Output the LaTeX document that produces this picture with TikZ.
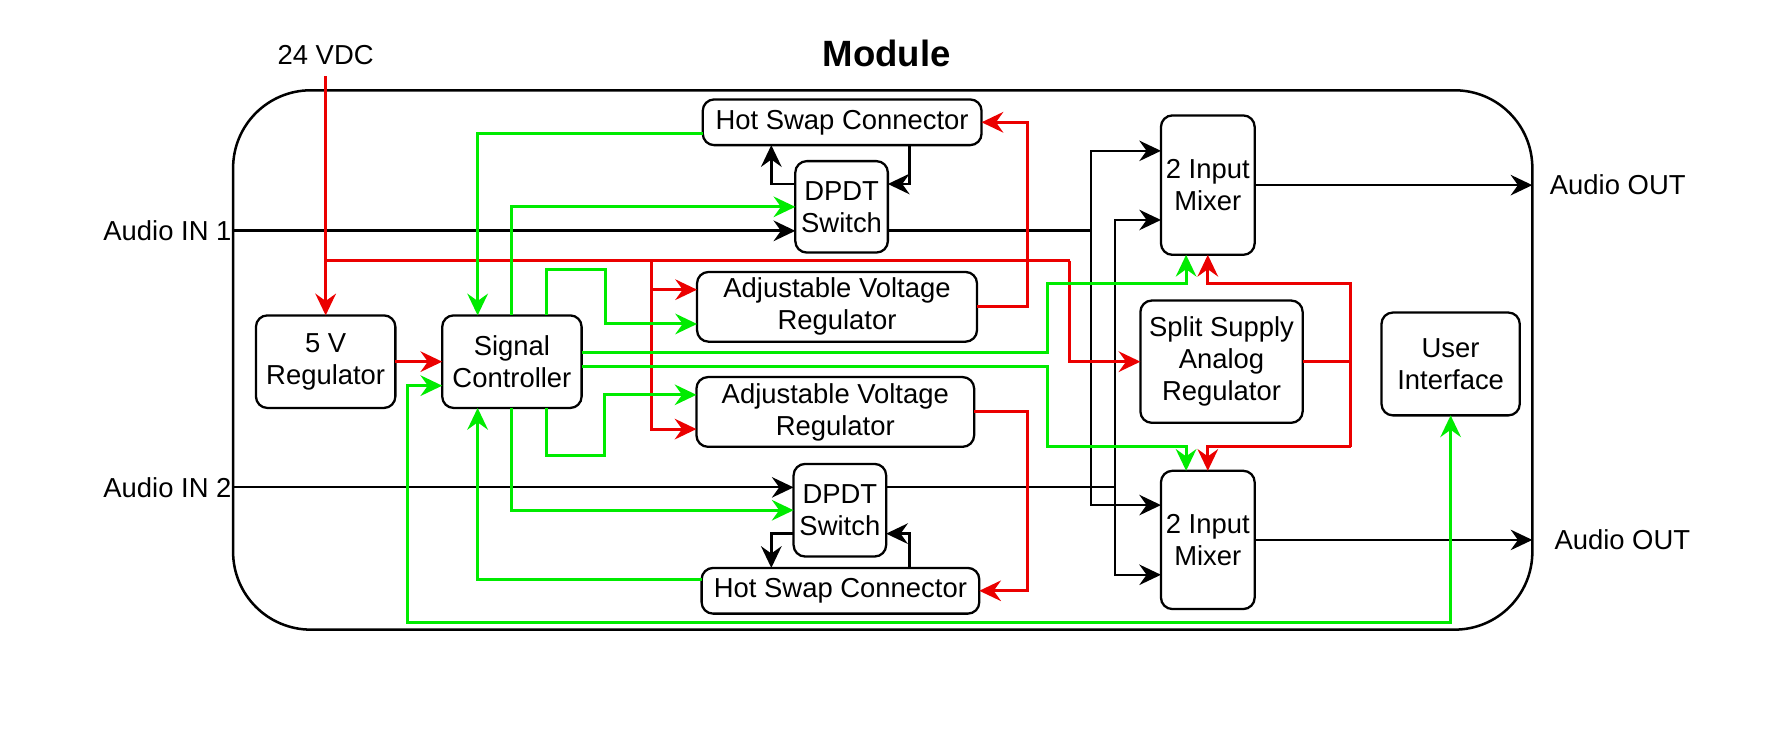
\documentclass[tikz,border=0pt]{standalone}
\usepackage{fontspec}
\setmainfont{Liberation Sans}
\usetikzlibrary{arrows.meta}
\definecolor{pwrred}{RGB}{235,0,0}
\definecolor{ctlgreen}{RGB}{0,235,0}
\tikzstyle{block}=[draw,rounded corners=5pt,line width=1pt,align=center,inner sep=0pt,outer sep=0pt]
\tikzstyle{frame}=[draw,rounded corners=34pt,line width=1.1pt,inner sep=0pt,outer sep=0pt]
\tikzstyle{port}=[inner sep=0pt]
\tikzstyle{heading}=[font=\bfseries\fontsize{16}{19}\selectfont]
\tikzstyle{audio}=[draw,line width=0.8pt]
\tikzstyle{main audio}=[draw,line width=1.2pt]
\tikzstyle{power}=[draw,line width=1.3pt,color=pwrred]
\tikzstyle{ctrl}=[draw,line width=1.3pt,color=ctlgreen]

\begin{document}
\begin{tikzpicture}[x=0.5pt,y=-0.5pt,>={Stealth[length=9.5pt,width=9pt,inset=3.2pt]},font=\fontsize{12}{14}\selectfont]
\useasboundingbox (0,0) rectangle (1563,645);

% Module outline and the outside labels
\node[frame,minimum width=568.5pt,minimum height=236pt] (frame) at (772.5,315) {};
\node[heading] (module) at (776,47) {Module};
\node[port] (vdc) at (285,48) {24 VDC};
\node[port,anchor=east] (in1) at (203,202) {Audio IN 1};
\node[port,anchor=east] (in2) at (203,426.5) {Audio IN 2};
\node[port,anchor=west] (out1) at (1356,162) {Audio OUT};
\node[port,anchor=west] (out2) at (1360,472.5) {Audio OUT};

% First we draw the blocks
\foreach \pos/\name/\w/\h/\txt in {{(737,107)/hsT/122pt/20pt/Hot Swap Connector},
  {(736.5,181)/dpT/40.5pt/40pt/DPDT\\Switch},
  {(732.5,268.5)/avT/122.5pt/30.5pt/Adjustable Voltage\\Regulator},
  {(731,360.5)/avB/121.5pt/30.5pt/Adjustable Voltage\\Regulator},
  {(735,446.5)/dpB/40.5pt/40.5pt/DPDT\\Switch},
  {(735.5,517)/hsB/121.5pt/20pt/Hot Swap Connector},
  {(285,316.5)/reg5/61pt/40.5pt/5 V\\Regulator},
  {(448,316.5)/sig/61pt/40.5pt/Signal\\Controller},
  {(1057,162)/mixT/41pt/61pt/2 Input\\Mixer},
  {(1057,472.5)/mixB/41pt/60.5pt/2 Input\\Mixer},
  {(1069,316.5)/split/71pt/53.5pt/Split Supply\\Analog\\Regulator},
  {(1269.5,318.5)/ui/60.5pt/45pt/User\\Interface}}
  \node[block,minimum width=\w,minimum height=\h] (\name) at \pos {\txt};

% Bend points of the wiring
\coordinate (jv) at (285,228);
\coordinate (jm) at (570,228);
\coordinate (jr) at (936,228);
\coordinate (rr) at (899,0);
\coordinate (srT) at (1182,248);
\coordinate (srB) at (1182,391);
\coordinate (busA) at (955,300);
\coordinate (busB) at (976,300);
\coordinate (lp) at (675,0);
\coordinate (rp) at (796,0);
\coordinate (gA) at (530,236);
\coordinate (gB) at (529,399);
\coordinate (gx) at (917,248);
\coordinate (gy) at (917,391);
\coordinate (gL) at (357,545);

% Audio paths
\path[main audio,->] (in1.east) -- (in1.east -| dpT.west);
\path[main audio] (dpT.east |- in1.east) -- (busA |- in1.east);
\path[audio,->] (in2.east) -- (in2.east -| dpB.west);
\path[audio] (dpB.east |- in2.east) -- (busB |- in2.east);
\path[audio,<->] ([yshift=15pt]mixT.west) -| (busA) |- ([yshift=15.25pt]mixB.west);
\path[audio,<->] ([yshift=-15.25pt]mixT.west) -| (busB) |- ([yshift=-15.25pt]mixB.west);
\path[audio,->] (mixT.east) -- (mixT.east -| frame.east);
\path[audio,->] (mixB.east) -- (mixB.east -| frame.east);
\path[main audio,->] ([yshift=10pt]dpT.west) -| (lp |- hsT.south);
\path[main audio,->] (hsT.south -| rp) |- ([yshift=10pt]dpT.east);
\path[main audio,->] ([yshift=-10.25pt]dpB.west) -| (lp |- hsB.north);
\path[main audio,->] (hsB.north -| rp) |- ([yshift=-10.25pt]dpB.east);

% Power paths
\path[power,->] ([yshift=-5pt]vdc.south) -- (reg5.north);
\path[power] (jv) -- (jr);
\path[power,->] (jr) |- (split.west);
\path[power,->] (jm) |- ([yshift=7.5pt]avT.west);
\path[power,->] (jm) |- ([yshift=-7.5pt]avB.west);
\path[power,->] (avT.east) -| (rr |- hsT.east) -- (hsT.east);
\path[power,->] (avB.east) -| (rr |- hsB.east) -- (hsB.east);
\path[power,->] (reg5.east) -- (sig.west);
\path[power] (split.east) -- (split.east -| srT);
\path[power,->] (srB) -- (srT) -| (mixT.south);
\path[power,->] (srB) -| (mixB.north);

% Control paths
\path[ctrl,->] ([yshift=-5pt]hsT.west) -| ([xshift=-15pt]sig.north);
\path[ctrl,->] (sig.north) |- (dpT.west);
\path[ctrl,->] ([xshift=15pt]sig.north) |- (gA) |- ([yshift=-7.5pt]avT.west);
\path[ctrl,->] ([yshift=4pt]sig.east) -| (gx) -| ([xshift=-9.5pt]mixT.south);
\path[ctrl,->] ([yshift=-2pt]sig.east) -| (gy) -| ([xshift=-9.5pt]mixB.north);
\path[ctrl,->] ([xshift=15pt]sig.south) |- (gB) |- ([yshift=7.5pt]avB.west);
\path[ctrl,->] (sig.south) |- (dpB.west);
\path[ctrl,->] ([yshift=5pt]hsB.west) -| ([xshift=-15pt]sig.south);
\path[ctrl,<->] ([yshift=-10.5pt]sig.west) -| (gL) -| (ui.south);
\end{tikzpicture}
\end{document}
